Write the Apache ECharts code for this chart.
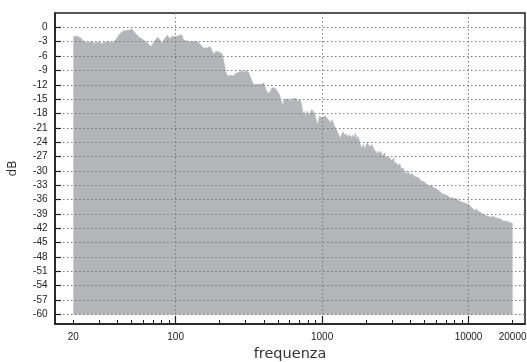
<!DOCTYPE html>
<html>
<head>
<meta charset="utf-8">
<script src="https://cdn.jsdelivr.net/npm/echarts@6/dist/echarts.min.js"></script>
<style>
  html, body { margin: 0; padding: 0; background: #fff; }
  #chart { width: 527px; height: 362px; }
</style>
</head>
<body>
<div id="chart"></div>
<script>
// Spectrum: frequency (Hz) and level (dB)
const freq = [
  20, 21, 22.5, 23.5, 25, 26.5, 28, 30, 31, 33, 35, 37, 39, 41, 43, 45, 48, 50, 51, 53, 56, 60, 64, 68, 70, 73, 75, 78, 81, 84, 88, 91, 95, 100,
  105, 110, 113, 118, 125, 135, 143, 150, 155, 165, 172, 178, 182, 188, 193, 200, 208, 212, 216, 220, 226, 232, 240, 248, 255, 265, 275, 285, 292, 300,
  315, 325, 335, 345, 355, 365, 375, 385, 400, 410, 425, 440, 455, 468, 480, 495, 510, 525, 540, 550, 560, 575, 590, 600, 615, 630, 650, 665, 680, 700,
  720, 735, 745, 760, 775, 790, 810, 830, 850, 870, 890, 910, 935, 960, 985, 1000,
  1026, 1050, 1081, 1110, 1139, 1170, 1200, 1233, 1260, 1291, 1333, 1365, 1397, 1420, 1440, 1480, 1500, 1520, 1559, 1590, 1620, 1650, 1686, 1710, 1730,
  1767, 1790, 1820, 1850, 1874, 1900, 1920, 1950, 1973, 2000, 2020, 2045, 2069, 2100, 2135, 2160, 2180, 2210, 2238, 2270, 2300, 2340, 2372, 2400,
  2421, 2450, 2480, 2510, 2540, 2580, 2618, 2650, 2680, 2710, 2743, 2780, 2820, 2870, 2921, 2960, 3000, 3040, 3080, 3120, 3160, 3200, 3240, 3280,
  3314, 3360, 3400, 3450, 3510, 3550, 3600, 3650, 3696, 3750, 3800, 3850, 3900, 3950, 3999, 4070, 4150, 4230, 4325, 4410, 4500, 4590, 4677, 4740,
  4806, 4870, 4930, 5000, 5060, 5150, 5250, 5350, 5473, 5600, 5750, 5900, 6077, 6250, 6400, 6550, 6714, 6900, 7100, 7300, 7494, 7700, 7900, 8100,
  8323, 8550, 8800, 9000, 9232, 9400, 9600, 9800, 9983, 10150, 10300, 10540, 10650, 10800, 11090, 11250, 11400, 11670, 11900, 12200, 12450, 12700,
  13000, 13330, 13700, 14200, 14700, 15180, 15700, 16200, 16700, 17290, 17700, 18200, 18700, 19220, 19600, 20000
];
const level = [
  -2.0, -1.8, -2.2, -2.9, -3.2, -3.0, -3.3, -3.0, -3.4, -3.1, -3.0, -3.2, -2.6, -1.6, -0.9, -0.7, -0.6, -0.3, -0.1, -1.2, -2.0, -2.6, -3.2, -4.0, -4.2, -2.6, -2.1, -2.6, -3.3, -2.4, -1.6, -2.4, -1.8, -2.0,
  -1.7, -1.6, -2.6, -2.8, -3.0, -2.9, -3.1, -3.9, -4.3, -4.3, -4.0, -5.0, -5.6, -5.0, -4.7, -5.2, -5.6, -6.0, -8.0, -9.3, -10.2, -10.5, -10.0, -10.2, -9.7, -9.5, -9.3, -9.0, -9.6, -9.0,
  -9.4, -9.3, -11.5, -12.0, -11.6, -11.9, -11.5, -11.9, -11.6, -12.8, -13.7, -13.6, -12.6, -12.2, -12.8, -13.4, -14.0, -14.3, -16.4, -15.2, -15.6, -14.9, -15.4, -14.8, -15.6, -15.0, -15.3, -14.8, -15.5, -15.0,
  -15.7, -16.0, -18.3, -17.6, -18.5, -17.5, -18.3, -17.8, -17.2, -17.0, -18.0, -19.3, -20.3, -18.6, -18.3, -18.9,
  -19.3, -18.5, -18.3, -19.4, -19.9, -19.3, -20.2, -21.0, -21.5, -22.3, -23.1, -22.3, -21.8, -22.8, -22.2, -21.8, -22.9, -22.4, -22.2, -23.0, -22.5, -23.2, -22.1, -22.8, -23.3,
  -22.8, -23.6, -24.4, -25.2, -24.9, -25.5, -24.5, -25.6, -25.2, -24.6, -25.0, -24.1, -23.9, -25.0, -24.8, -25.3, -24.5, -24.9, -24.2, -25.5, -25.9, -25.4, -26.5, -25.8,
  -25.6, -26.4, -26.6, -25.9, -26.3, -26.9, -26.6, -27.0, -26.2, -27.1, -27.3, -26.8, -27.2, -27.6, -27.3, -27.9, -27.6, -28.1, -27.3, -28.3, -28.6, -28.0, -28.4, -28.9,
  -28.6, -29.1, -28.5, -29.4, -29.7, -29.1, -29.5, -30.2, -30.7, -30.0, -30.4, -30.7, -30.2, -30.8, -30.4, -30.9, -30.6, -31.1, -30.9, -31.3, -31.0, -31.5, -31.2, -32.1,
  -32.5, -31.9, -32.2, -31.8, -32.1, -32.7, -32.5, -33.2, -33.3, -33.0, -33.5, -33.2, -33.8, -34.0, -34.4, -34.1, -34.9, -34.7, -35.1, -34.9, -35.6, -35.3, -35.7, -35.5,
  -35.9, -36.1, -36.4, -36.2, -36.6, -36.4, -36.8, -36.6, -37.0, -36.9, -37.4, -37.7, -37.3, -37.5, -38.4, -37.9, -38.1, -38.4, -38.3, -38.8, -38.6, -39.1,
  -38.9, -39.4, -39.3, -39.7, -39.5, -39.8, -39.9, -40.2, -40.1, -40.5, -40.3, -40.5, -40.6, -40.8, -40.7, -41.0
];

// Axis ticks and labels
const dbTicks = [-60, -57, -54, -51, -48, -45, -42, -39, -36, -33, -30, -27, -24, -21, -18, -15, -12, -9, -6, -3, 0];
const decadeTicks = [100, 1000, 10000];
const minorFreqTicks = [20, 30, 40, 50, 60, 70, 80, 90, 200, 300, 400, 500, 600, 700, 800, 900,
  2000, 3000, 4000, 5000, 6000, 7000, 8000, 9000, 20000];
const freqLabels = [20, 100, 1000, 10000, 20000];

const FREQ_MIN = 15, FREQ_MAX = 24300;
const DB_MIN = -62, DB_MAX = 3, FLOOR = -60;

const ink = '#1e1e1e';
const dotted = { color: '#7a7a7a', width: 1, type: [1.5, 2.5] };
const tickFont = { fontFamily: "'Liberation Sans Narrow', 'Liberation Sans', sans-serif", fontSize: 10, color: '#222' };
const plotRect = { left: 55, top: 13, right: 2, bottom: 38, outerBoundsMode: 'none', containLabel: false };

const chart = echarts.init(document.getElementById('chart'), null, { renderer: 'canvas' });

chart.setOption({
  animation: false,
  backgroundColor: '#fff',
  grid: [
    Object.assign({ show: true, borderColor: ink, borderWidth: 1.5, backgroundColor: 'transparent' }, plotRect),
    Object.assign({ show: false }, plotRect)
  ],
  xAxis: [
    {
      type: 'log', gridIndex: 0, position: 'bottom', logBase: 10, min: FREQ_MIN, max: FREQ_MAX, z: 3,
      name: 'frequenza', nameLocation: 'middle', nameGap: 23,
      nameTextStyle: { fontFamily: 'DejaVu Sans', fontSize: 14.5, color: '#333' },
      axisLine: { show: true, onZero: false, lineStyle: { color: ink, width: 1.5 } },
      axisTick: { show: true, inside: true, length: 8, customValues: decadeTicks, lineStyle: { color: ink, width: 1.2 } },
      axisLabel: { show: false },
      splitLine: { show: true, lineStyle: dotted }
    },
    {
      type: 'log', gridIndex: 1, position: 'bottom', logBase: 10, min: FREQ_MIN, max: FREQ_MAX, z: 3,
      axisLine: { show: false, onZero: false },
      axisTick: { show: true, inside: true, length: 4, customValues: minorFreqTicks, lineStyle: { color: ink, width: 1 } },
      axisLabel: Object.assign({ show: true, margin: 8, customValues: freqLabels,
        formatter: v => String(Math.round(v)) }, tickFont),
      splitLine: { show: false }
    }
  ],
  yAxis: [
    {
      type: 'value', gridIndex: 0, min: DB_MIN, max: DB_MAX, z: 3,
      name: 'dB', nameLocation: 'middle', nameGap: 36, nameRotate: 90,
      nameTextStyle: { fontFamily: 'DejaVu Sans', fontSize: 12, color: '#333' },
      axisLine: { show: true, onZero: false, lineStyle: { color: ink, width: 1.5 } },
      axisTick: { show: true, inside: true, length: 6, customValues: dbTicks, lineStyle: { color: ink, width: 1.2 } },
      axisLabel: Object.assign({ show: true, margin: 7.5, customValues: dbTicks }, tickFont),
      splitLine: { show: true, lineStyle: dotted }
    },
    {
      type: 'value', gridIndex: 1, min: DB_MIN, max: DB_MAX, show: false
    }
  ],
  series: [
    {
      type: 'line',
      xAxisIndex: 0, yAxisIndex: 0,
      data: freq.map((f, i) => [f, level[i]]),
      symbol: 'none',
      smooth: false,
      z: 1,
      lineStyle: { width: 0.6, color: '#b4b5b9' },
      areaStyle: { color: '#b4b5b9', opacity: 1, origin: FLOOR }
    }
  ]
});
</script>
</body>
</html>
